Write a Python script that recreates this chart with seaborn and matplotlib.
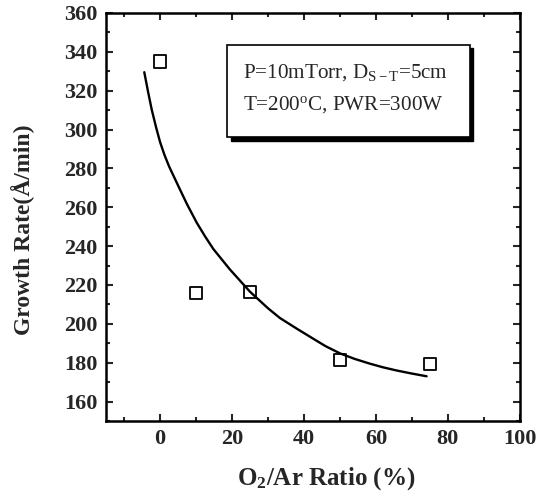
import matplotlib
matplotlib.use("Agg")
import matplotlib.pyplot as plt
import seaborn as sns
from matplotlib.patches import Rectangle
from matplotlib.ticker import MultipleLocator

# Measured data (O2/Ar ratio %, growth rate Å/min)
ratio = [0, 10, 25, 50, 75]
rate = [335, 216, 216.5, 181.5, 179.5]

# Fitted curve
fit_x = [-4.4, -3.3, -2.3, -1.1, 0, 1.2, 2.5, 3.9, 5.3, 7.5, 10.2, 12.5, 14.8, 19.4, 25, 30,
         33.3, 38, 42.6, 46, 50, 54, 58.3, 62, 65.7, 70, 74.1]
fit_y = [329.5, 319, 310, 301, 293.5, 287, 281, 275.5, 270, 261.5, 252, 245, 238.5, 228,
         216.5, 208, 203, 197.5, 192.3, 188.5, 184.8, 182, 179.5, 177.6, 176, 174.4, 173]

x_ticks = [0, 20, 40, 60, 80, 100]
y_ticks = [160, 180, 200, 220, 240, 260, 280, 300, 320, 340, 360]

sns.set_style("ticks")
plt.rcParams['font.family'] = ['Liberation Serif', 'DejaVu Serif']
plt.rcParams['mathtext.fontset'] = 'custom'
plt.rcParams['mathtext.rm'] = 'Liberation Serif'
plt.rcParams['mathtext.bf'] = 'Liberation Serif:bold'
plt.rcParams['mathtext.it'] = 'Liberation Serif:italic'

fig = plt.figure(figsize=(5.5, 4.97), dpi=100)
ax = fig.add_axes([0.193, 0.153, 0.752, 0.821])

sns.lineplot(x=fit_x, y=fit_y, ax=ax, color='black', linewidth=1.7, sort=False,
             estimator=None)
sns.scatterplot(x=ratio, y=rate, ax=ax, marker='s', s=75, facecolor='none',
                edgecolor='black', linewidth=1.3, zorder=3)

ax.set_xlim(-15, 100)
ax.set_ylim(150, 360)
ax.set_xticks(x_ticks)
ax.set_yticks(y_ticks)
ax.xaxis.set_minor_locator(MultipleLocator(10))
ax.yaxis.set_minor_locator(MultipleLocator(10))
ax.tick_params(which='both', direction='in', top=True, right=True, width=1.5)
ax.tick_params(which='major', length=5, labelsize=16, pad=6)
ax.tick_params(which='minor', length=3)
ax.tick_params(axis='y', labelleft=True, labelright=False)
ax.tick_params(axis='x', labeltop=False)
for lbl in ax.get_xticklabels() + ax.get_yticklabels():
    lbl.set_fontweight('bold')
for sp in ax.spines.values():
    sp.set_linewidth(1.8)
    sp.set_color('black')

ax.set_xlabel(r"O$_\mathbf{2}$/Ar Ratio (%)", fontsize=18, fontweight='bold')
ax.set_ylabel("Growth Rate(Å/min)", fontsize=17, fontweight='bold')
ax.xaxis.set_label_coords(0.531, -0.108)
ax.yaxis.set_label_coords(-0.171, 0.468)

# Annotation box with drop shadow
bx0, by0, bw, bh = 0.292, 0.696, 0.587, 0.226
shadow = Rectangle((bx0 + 0.009, by0 - 0.009), bw, bh, transform=ax.transAxes,
                   facecolor='black', edgecolor='black', zorder=4)
box = Rectangle((bx0, by0), bw, bh, transform=ax.transAxes,
                facecolor='white', edgecolor='black', linewidth=1.2, zorder=5)
ax.add_patch(shadow)
ax.add_patch(box)
ax.text(0.33, 0.855, r"P=10mTorr, D$_{\mathrm{S-T}}$=5cm", transform=ax.transAxes,
        fontsize=15.2, va='center', ha='left', zorder=6)
ax.text(0.33, 0.775, r"T=200$^{\mathrm{o}}$C, PWR=300W", transform=ax.transAxes,
        fontsize=15.2, va='center', ha='left', zorder=6)

fig.savefig("out.png", dpi=100)
